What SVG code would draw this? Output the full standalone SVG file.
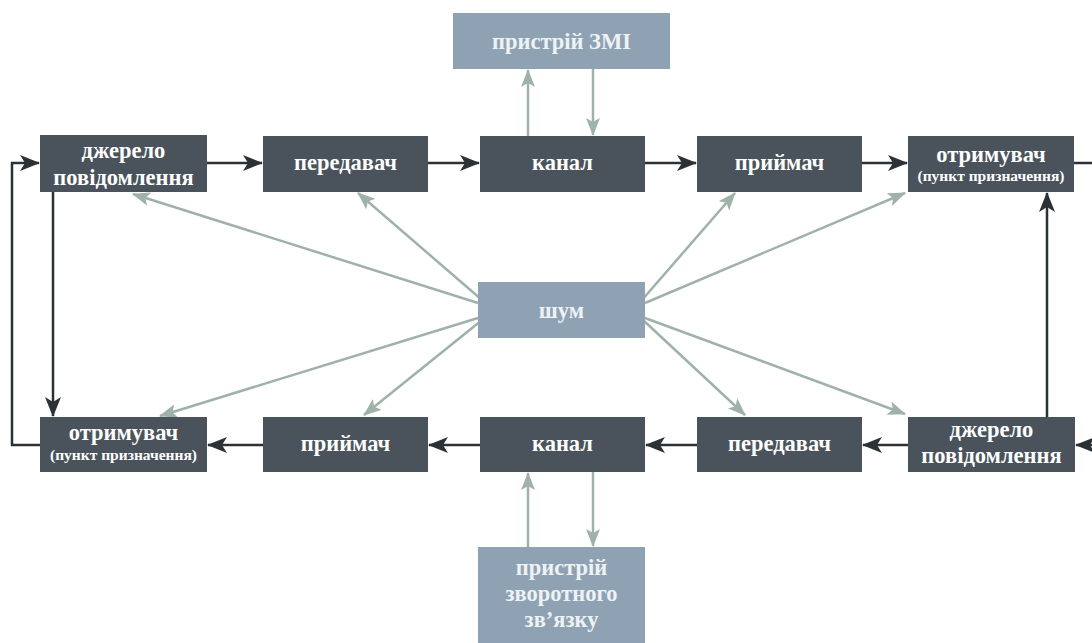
<svg xmlns="http://www.w3.org/2000/svg" width="1092" height="643" viewBox="0 0 1092 643">
  <style>
    .dark { fill: #4a535b; }
    .light { fill: #8fa2b3; }
    .t { font-family: "Liberation Serif", "Times New Roman", serif; font-weight: bold; fill: #ffffff; text-anchor: middle; }
    .lt { fill: #eef2f5; }
    .big { font-size: 22.5px; }
    .small { font-size: 15.5px; }
    .cd { stroke: #2c3135; stroke-width: 2.5; fill: none; }
    .cl { stroke: #9fb2a9; stroke-width: 2.5; fill: none; }
  </style>
  <defs>
    <marker id="ad" markerUnits="userSpaceOnUse" viewBox="0 0 20 16" refX="19" refY="8" markerWidth="20" markerHeight="16" orient="auto">
      <path d="M0,0 L20,8 L0,16 L5,8 Z" fill="#2c3135"/>
    </marker>
    <marker id="al" markerUnits="userSpaceOnUse" viewBox="0 0 18 14" refX="17" refY="7" markerWidth="18" markerHeight="14" orient="auto">
      <path d="M0,0 L18,7 L0,14 L4,7 Z" fill="#9fb2a9"/>
    </marker>
  </defs>
  <rect width="1092" height="643" fill="#ffffff"/>

  <!-- connectors -->
  <g id="connectors">
    <!-- noise rays -->
    <line class="cl" x1="478" y1="303" x2="133" y2="194" marker-end="url(#al)"/>
    <line class="cl" x1="482" y1="300" x2="358" y2="193" marker-end="url(#al)"/>
    <line class="cl" x1="478" y1="318" x2="160" y2="416" marker-end="url(#al)"/>
    <line class="cl" x1="482" y1="320" x2="364" y2="415" marker-end="url(#al)"/>
    <line class="cl" x1="642" y1="300" x2="735" y2="193" marker-end="url(#al)"/>
    <line class="cl" x1="645" y1="303" x2="905" y2="193" marker-end="url(#al)"/>
    <line class="cl" x1="643" y1="320" x2="745" y2="415" marker-end="url(#al)"/>
    <line class="cl" x1="645" y1="318" x2="905" y2="414" marker-end="url(#al)"/>
    <!-- media device links -->
    <line class="cl" x1="528" y1="136" x2="528" y2="70" marker-end="url(#al)"/>
    <line class="cl" x1="593" y1="69" x2="593" y2="135" marker-end="url(#al)"/>
    <!-- feedback device links -->
    <line class="cl" x1="528" y1="547" x2="528" y2="473" marker-end="url(#al)"/>
    <line class="cl" x1="593" y1="472" x2="593" y2="546" marker-end="url(#al)"/>
    <!-- top chain -->
    <line class="cd" x1="207" y1="163" x2="262" y2="163" marker-end="url(#ad)"/>
    <line class="cd" x1="428" y1="163" x2="479" y2="163" marker-end="url(#ad)"/>
    <line class="cd" x1="645" y1="163" x2="696" y2="163" marker-end="url(#ad)"/>
    <line class="cd" x1="862" y1="163" x2="907" y2="163" marker-end="url(#ad)"/>
    <!-- bottom chain -->
    <line class="cd" x1="908" y1="445" x2="863" y2="445" marker-end="url(#ad)"/>
    <line class="cd" x1="697" y1="445" x2="646" y2="445" marker-end="url(#ad)"/>
    <line class="cd" x1="480" y1="445" x2="429" y2="445" marker-end="url(#ad)"/>
    <line class="cd" x1="263" y1="445" x2="208" y2="445" marker-end="url(#ad)"/>
    <!-- loops -->
    <path class="cd" d="M40,445 H12 V163 H39" marker-end="url(#ad)"/>
    <line class="cd" x1="53" y1="192" x2="53" y2="416" marker-end="url(#ad)"/>
    <line class="cd" x1="1074" y1="163" x2="1092" y2="163"/>
    <line class="cd" x1="1092" y1="445" x2="1076" y2="445" marker-end="url(#ad)"/>
    <line class="cd" x1="1047" y1="417" x2="1047" y2="193" marker-end="url(#ad)"/>
  </g>

  <g id="media">
    <rect class="light" x="453" y="13" width="217" height="56"/>
    <text class="t lt big" x="561.5" y="49">пристрій ЗМІ</text>
  </g>

  <g id="source-top">
    <rect class="dark" x="40" y="135" width="167" height="57"/>
    <text class="t big" x="123.5" y="158">джерело</text>
    <text class="t big" x="123.5" y="185">повідомлення</text>
  </g>
  <g id="transmitter-top">
    <rect class="dark" x="263" y="136" width="165" height="56"/>
    <text class="t big" x="345.5" y="170">передавач</text>
  </g>
  <g id="channel-top">
    <rect class="dark" x="480" y="136" width="165" height="56"/>
    <text class="t big" x="562.5" y="170">канал</text>
  </g>
  <g id="receiver-top">
    <rect class="dark" x="697" y="136" width="165" height="56"/>
    <text class="t big" x="779.5" y="170">приймач</text>
  </g>
  <g id="destination-top">
    <rect class="dark" x="908" y="136" width="166" height="56"/>
    <text class="t big" x="991" y="162">отримувач</text>
    <text class="t small" x="991" y="181">(пункт призначення)</text>
  </g>

  <g id="noise">
    <rect class="light" x="478" y="282" width="167" height="56"/>
    <text class="t lt big" x="561.5" y="318">шум</text>
  </g>

  <g id="destination-bottom">
    <rect class="dark" x="40" y="417" width="167" height="55"/>
    <text class="t big" x="123.5" y="440">отримувач</text>
    <text class="t small" x="123.5" y="460">(пункт призначення)</text>
  </g>
  <g id="receiver-bottom">
    <rect class="dark" x="263" y="417" width="165" height="55"/>
    <text class="t big" x="345.5" y="451">приймач</text>
  </g>
  <g id="channel-bottom">
    <rect class="dark" x="480" y="417" width="165" height="55"/>
    <text class="t big" x="562.5" y="451">канал</text>
  </g>
  <g id="transmitter-bottom">
    <rect class="dark" x="697" y="417" width="165" height="55"/>
    <text class="t big" x="779.5" y="451">передавач</text>
  </g>
  <g id="source-bottom">
    <rect class="dark" x="908" y="417" width="167" height="55"/>
    <text class="t big" x="991.5" y="437">джерело</text>
    <text class="t big" x="991.5" y="463">повідомлення</text>
  </g>

  <g id="feedback">
    <rect class="light" x="478" y="547" width="167" height="100"/>
    <text class="t lt big" x="561.5" y="575">пристрій</text>
    <text class="t lt big" x="561.5" y="601">зворотного</text>
    <text class="t lt big" x="561.5" y="627">зв’язку</text>
  </g>
</svg>
